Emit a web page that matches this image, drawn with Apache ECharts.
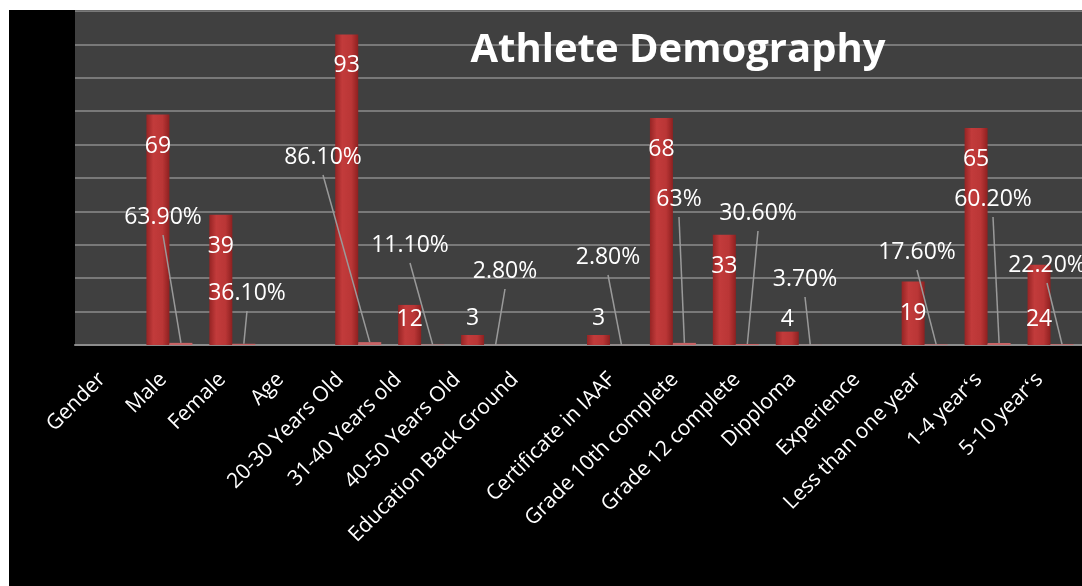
<!DOCTYPE html>
<html>
<head>
<meta charset="utf-8">
<script src="https://cdn.jsdelivr.net/npm/echarts@6/dist/echarts.min.js"></script>
<style>
  html, body { margin: 0; padding: 0; background: #fff; }
  #chart { position: absolute; left: 9px; top: 10px; width: 1073px; height: 576px; }
</style>
</head>
<body>
<div id="chart"></div>
<script>
// categories (section headers have no values)
const categories = [
  "Gender", "Male", "Female", "Age", "20-30 Years Old", "31-40 Years old",
  "40-50 Years Old", "Education Back Ground", "Certificate in IAAF",
  "Grade 10th complete", "Grade 12 complete", "Dipploma", "Experience",
  "Less than one year", "1-4 year\u02bbs", "5-10 year\u02bbs"
];
// number of athletes
const counts = [null, 69, 39, null, 93, 12, 3, null, 3, 68, 33, 4, null, 19, 65, 24];
// share in percent
const percents = [null, 63.9, 36.1, null, 86.1, 11.1, 2.8, null, 2.8, 63, 30.6, 3.7, null, 17.6, 60.2, 22.2];

// where the moved percent labels sit (page px), by category index
const pctLabelAt = {
  1: [163, 217], 2: [247, 293], 4: [323, 157], 5: [410, 245], 6: [505, 271],
  8: [608, 257], 9: [679, 199], 10: [758, 213], 11: [805, 279],
  13: [917, 252], 14: [993, 199], 15: [1047, 265]
};
// count labels that do not sit in the usual spot
const countLabelFix = {
  5: { distance: 3 },
  6: { position: "top", distance: 5 },
  8: { position: "top", distance: 5 },
  11: { position: "top", distance: 1 },
  15: { distance: 43 }
};
// how far left of its category each axis label ends (px)
const tickLabelShift = [4.5, 6, 10, 15, 18, 23, 27, 32, -2, -2, -1, 6, 5, 7, 9, 11];

const FONT = "Open Sans";
const redBar = new echarts.graphic.LinearGradient(0, 0, 1, 0, [
  { offset: 0, color: "#962424" },
  { offset: 0.3, color: "#c23b3b" },
  { offset: 0.7, color: "#ba3636" },
  { offset: 1, color: "#8e2020" }
]);

// rotated label: right padding slides it down-left, top/bottom padding across,
// together they give a sideways shift of d while keeping the same drop
var tickRich = {};
tickLabelShift.forEach(function (d, i) {
  var pr = (d + 7.07) / 1.414;
  var v = (d - 7.07) / 0.707;
  tickRich["r" + i] = {
    color: "#fff", fontFamily: FONT, fontSize: 21,
    padding: [v < 0 ? -v : 0, pr, v > 0 ? v : 0, 0]
  };
});

var chartDom = document.getElementById("chart");
var myChart = echarts.init(chartDom);

var option = {
  backgroundColor: "#000",
  animation: false,
  title: {
    text: "Athlete Demography",
    left: 664,
    top: 16,
    textAlign: "center",
    textStyle: { color: "#fff", fontFamily: FONT, fontWeight: "bold", fontSize: 40 }
  },
  grid: {
    show: true,
    left: 66, right: 0, top: 1, bottom: 241,
    backgroundColor: "#404040",
    borderWidth: 0
  },
  xAxis: {
    type: "category",
    data: categories,
    axisTick: { show: false },
    axisLine: { lineStyle: { color: "#8c8c8c", width: 2 } },
    axisLabel: {
      interval: 0,
      rotate: 45,
      margin: 24,
      color: "#fff",
      fontFamily: FONT,
      fontSize: 21,
      formatter: function (v, i) { return "{r" + i + "|" + v + "}"; },
      rich: tickRich
    }
  },
  yAxis: {
    type: "value",
    min: 0, max: 100, interval: 10,
    axisLabel: { show: false },
    axisLine: { show: false },
    axisTick: { show: false },
    splitLine: { lineStyle: { color: "#8c8c8c", width: 1.5 } }
  },
  series: [
    {
      name: "Count",
      type: "bar",
      barWidth: 23,
      barGap: "0%",
      itemStyle: { color: redBar },
      data: counts.map(function (v, i) {
        if (v == null) return null;
        var item = { value: v };
        if (countLabelFix[i]) item.label = countLabelFix[i];
        return item;
      }),
      label: {
        show: true,
        position: "insideTop",
        distance: 20,
        color: "#fff",
        fontFamily: FONT,
        fontSize: 23
      }
    },
    {
      name: "Percent",
      type: "bar",
      barWidth: 23,
      itemStyle: { color: "#c86466" },
      // drawn as fractions, so the bars stay flat on the axis
      data: percents.map(function (v) { return v == null ? null : v / 100; }),
      label: {
        show: true,
        position: "top",
        color: "#fff",
        fontFamily: FONT,
        fontSize: 23,
        formatter: function (p) { return percents[p.dataIndex].toFixed(p.dataIndex === 9 ? 0 : 2) + "%"; }
      },
      labelLayout: function (params) {
        var at = pctLabelAt[params.dataIndex];
        if (!at) return {};
        return { x: at[0] - 9, y: at[1] - 10, align: "center", verticalAlign: "middle" };
      }
    }
  ]
};

myChart.setOption(option);

// leader lines: from under each moved label down to its percent bar
var pctData = myChart.getModel().getSeriesByIndex(1).getData();
var leaders = [];
Object.keys(pctLabelAt).forEach(function (k) {
  var i = +k;
  var lay = pctData.getItemLayout(i);
  if (!lay) return;
  var at = pctLabelAt[i];
  leaders.push({
    type: "line",
    z: 5,
    shape: {
      x1: at[0] - 9, y1: at[1] - 10 + 18,
      x2: lay.x + lay.width / 2, y2: lay.y + lay.height
    },
    style: { stroke: "#9a9a9a", lineWidth: 1.5 }
  });
});
myChart.setOption({ graphic: leaders });
</script>
</body>
</html>
